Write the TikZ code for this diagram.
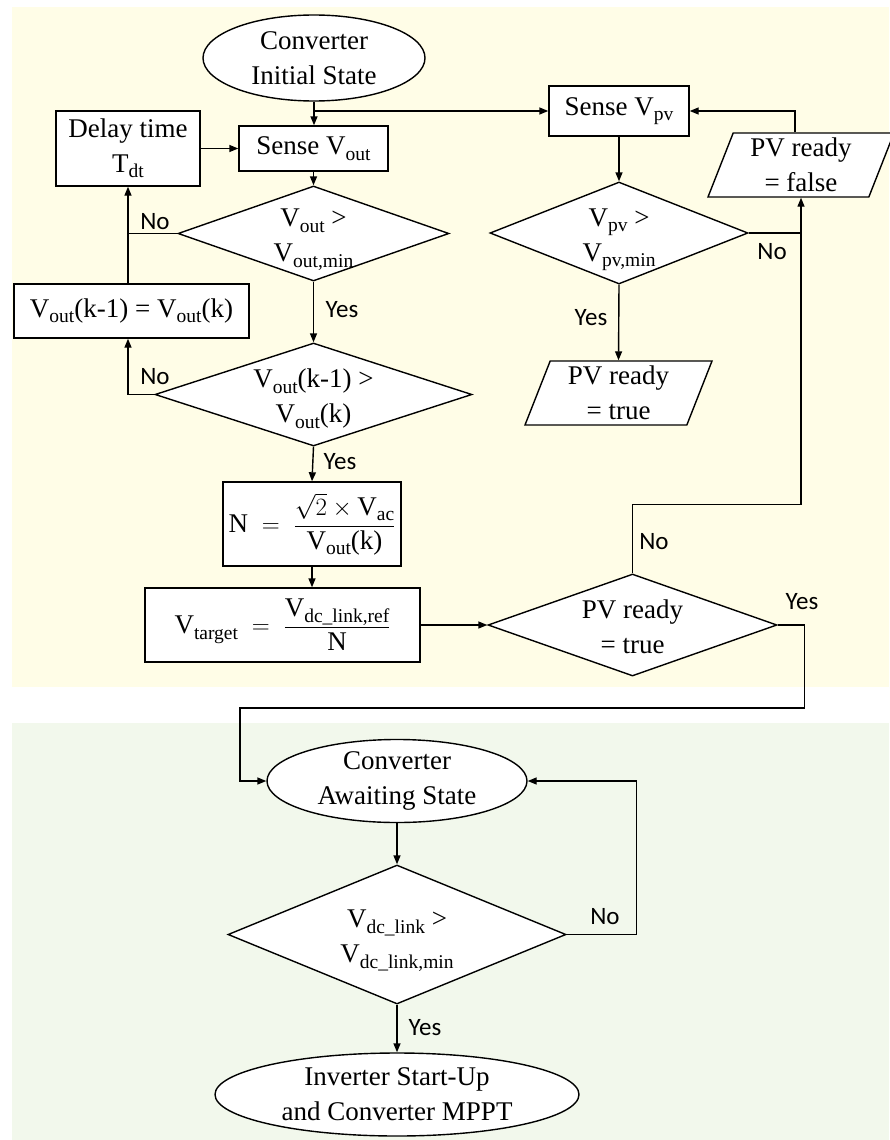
\documentclass[tikz,border=0pt]{standalone}
\usepackage{fontspec}
\setmainfont{Liberation Serif}
\newfontfamily\lblfont{Carlito}
\usetikzlibrary{shapes.geometric,arrows.meta}
\definecolor{bgy}{HTML}{FFFDE7}
\definecolor{bgg}{HTML}{F2F8EC}
\newcommand\sbs[1]{\raisebox{-0.2em}{\fontsize{19.5}{20}\selectfont #1}}
\newcommand\dtext[1]{\raisebox{-10pt}[0pt][0pt]{\begin{tabular}{@{}c@{}}#1\end{tabular}}}
\begin{document}
\begin{tikzpicture}[x=1pt,y=-1pt,
  every node/.style={font=\fontsize{27}{35}\selectfont, align=center, inner sep=0pt},
  base/.style={draw=black, fill=white, line width=1.4pt},
  procbox/.style={base, rectangle},
  decide/.style={base, diamond},
  term/.style={base, ellipse},
  iobox/.style={base, trapezium, trapezium left angle=65, trapezium right angle=115, trapezium stretches body},
  conn/.style={line width=1.4pt},
  arr/.style={conn, -{Triangle[length=9pt,width=7pt]}},
  lbl/.style={font=\lblfont\fontsize{25}{29}\selectfont},
]
\useasboundingbox (0,0) rectangle (889,1140);
\fill[bgy] (12,7) rectangle (889,687);
\fill[bgg] (12,723) rectangle (889,1140);

% nodes
\node[term, minimum width=222pt, minimum height=86pt] (init) at (314,58) {Converter\\Initial State};
\node[procbox, minimum width=149pt, minimum height=45pt] (svout) at (313.5,148.5) {Sense V\sbs{out}};
\node[procbox, minimum width=144pt, minimum height=75pt] (delay) at (128,148.5) {Delay time\\T\sbs{dt}};
\node[decide, aspect=2.85, minimum width=271pt, minimum height=95pt] (d1) at (313.5,233.5) {\dtext{V\sbs{out} >\\V\sbs{out,min}}};
\node[procbox, minimum width=235pt, minimum height=54pt] (vk) at (131.5,311) {V\sbs{out}(k-1) = V\sbs{out}(k)};
\node[decide, aspect=3.08, minimum width=317pt, minimum height=103pt] (d2) at (313.5,394.5) {\dtext{V\sbs{out}(k-1) >\\V\sbs{out}(k)}};
\node[procbox, minimum width=178pt, minimum height=84pt] (nbox) at (312,524) {$\mathrm{N}\;=\;\displaystyle\frac{\sqrt{2}\times\mbox{V\sbs{ac}}}{\mbox{V\sbs{out}(k)}}$};
\node[procbox, minimum width=275pt, minimum height=74pt] (vt) at (282.5,625) {$\mbox{V\sbs{target}}\;=\;\displaystyle\frac{\mbox{V\sbs{dc\_link,ref}}}{\mathrm{N}}$};
\node[decide, aspect=2.83, minimum width=289pt, minimum height=102pt] (pvr) at (632.5,625) {\dtext{PV ready\\= true}};
\node[procbox, minimum width=140pt, minimum height=50pt] (svpv) at (619,111) {Sense V\sbs{pv}};
\node[decide, aspect=2.53, minimum width=258pt, minimum height=102pt] (d3) at (619,233) {\dtext{V\sbs{pv} >\\V\sbs{pv,min}}};
\node[iobox, minimum width=187pt, minimum height=64pt] (pvt) at (618.5,393) {PV ready\\= true};
\node[iobox, minimum width=186pt, minimum height=64pt] (pvf) at (801,165) {PV ready\\= false};
\node[term, minimum width=260pt, minimum height=82pt] (await) at (397,781) {Converter\\Awaiting State};
\node[decide, aspect=2.43, minimum width=338pt, minimum height=139pt] (d4) at (397,934.5) {\dtext{V\sbs{dc\_link} >\\V\sbs{dc\_link,min}}};
\node[term, minimum width=364pt, minimum height=83pt] (inv) at (397,1094.5) {Inverter Start-Up\\and Converter MPPT};

\coordinate (c1) at (240,708);

% connectors
\draw[arr] (init.south) -- (init.south |- svout.north);
\draw[arr] (init.south |- svpv.west) -- (svpv.west);
\draw[arr] (delay.east) -- (svout.west);
\draw[arr] (svout.south) -- (d1.north);
\draw[arr] (d1.west) -| (delay.south);
\draw[conn] (delay.south |- vk.north) -- (delay.south |- d1.west);
\draw[arr] (d1.south) -- (d2.north);
\draw[arr] (d2.west) -| (delay.south |- vk.south);
\draw[arr] (d2.south) -- (nbox.north);
\draw[arr] (nbox.south) -- (nbox.south |- vt.north);
\draw[arr] (vt.east) -- (pvr.west);
\draw[arr] (svpv.south) -- (d3.north);
\draw[arr] (d3.south) -- (pvt.north);
\draw[conn] (d3.east) -- (d3.east -| pvf.south);
\draw[arr] (pvr.north) -- ++(0,-69) -| (pvf.south);
\draw[arr] ([xshift=-6pt]pvf.north) |- (svpv.east);
\draw[arr] (pvr.east) -- ++(27,0) |- (c1) |- (await.west);
\draw[arr] (await.south) -- (d4.north);
\draw[arr] (d4.east) -- ++(70,0) |- (await.east);
\draw[arr] (d4.south) -- (inv.north);

% labels
\node[lbl] (l1) at (155,222) {No};
\node[lbl] (l2) at (342,310) {Yes};
\node[lbl] (l3) at (155,377) {No};
\node[lbl] (l4) at (340,462) {Yes};
\node[lbl] (l5) at (591,318) {Yes};
\node[lbl] (l6) at (772,252) {No};
\node[lbl] (l7) at (654,542) {No};
\node[lbl] (l8) at (802,602) {Yes};
\node[lbl] (l9) at (605,917) {No};
\node[lbl] (l10) at (425,1028) {Yes};
\end{tikzpicture}
\end{document}
